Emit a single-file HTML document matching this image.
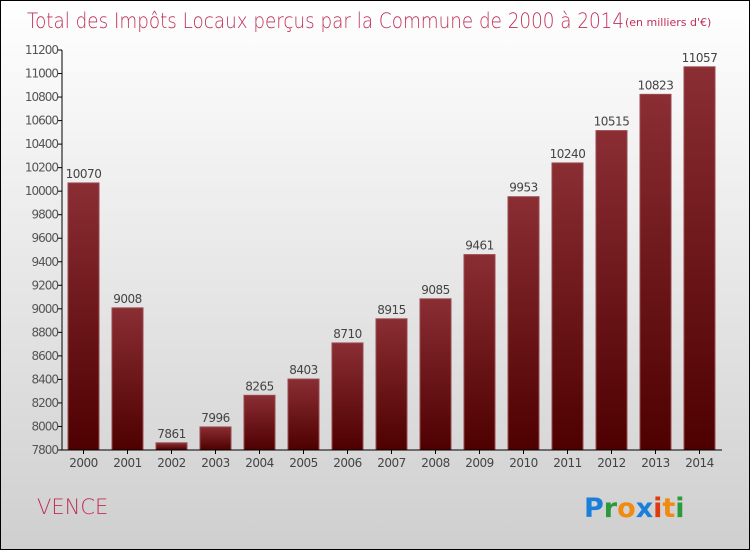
<!DOCTYPE html>
<html><head><meta charset="utf-8"><style>
body{margin:0;}
#c{position:relative;width:748px;height:548px;border:1px solid #000;background:linear-gradient(#ffffff,#cfcfcf);font-family:"DejaVu Sans","Liberation Sans",sans-serif;overflow:hidden}
</style></head><body>
<div id="c">
<svg width="748" height="548" style="position:absolute;left:0;top:0" id="svg">
<defs><linearGradient id="bg" x1="0" y1="0" x2="0" y2="1"><stop offset="0" stop-color="#8a2e34"/><stop offset="1" stop-color="#4e0000"/></linearGradient></defs>
<text x="26" y="27" font-size="21" fill="#c0305a" font-family="'DejaVu Sans',sans-serif" font-weight="200" textLength="597" lengthAdjust="spacingAndGlyphs">Total des Impôts Locaux perçus par la Commune de 2000 à 2014</text>
<text x="624" y="25" font-size="11" fill="#c0305a">(en milliers d'€)</text>
<text x="36" y="513" font-size="21" fill="#c0305a" font-weight="200">VENCE</text>
<g font-size="27" font-weight="bold" font-family="'DejaVu Sans',sans-serif">
<text x="583" y="516"><tspan fill="#1a7fd8">P</tspan><tspan fill="#2a9a3a">r</tspan><tspan fill="#f08a10">o</tspan><tspan fill="#1a7fd8">x</tspan><tspan fill="#e03a10">i</tspan><tspan fill="#f08a10">t</tspan><tspan fill="#2a9a3a">i</tspan></text></g>
<g id="plot"></g>
</svg>
</div>
<script>
const years=["2000","2001","2002","2003","2004","2005","2006","2007","2008","2009","2010","2011","2012","2013","2014"];
const values=[10070,9008,7861,7996,8265,8403,8710,8915,9085,9461,9953,10240,10515,10823,11057];
const ticks=[7800,8000,8200,8400,8600,8800,9000,9200,9400,9600,9800,10000,10200,10400,10600,10800,11000,11200];
const NS="http://www.w3.org/2000/svg";
const g=document.getElementById('plot');
const X0=61,X1=721,Y0=449,Y1=49,VMIN=7800,VMAX=11200;
function y(v){return Y0-(v-VMIN)/(VMAX-VMIN)*(Y0-Y1);}
const step=(X1-X0)/years.length;
function x(i){return X0+i*step;}
function mk(t,a){const e=document.createElementNS(NS,t);for(const k in a)e.setAttribute(k,a[k]);g.appendChild(e);return e;}
ticks.forEach(t=>{
 const l=mk('line',{x1:X0-4,x2:X0,y1:y(t),y2:y(t),stroke:'#000'});
 
 
 const tx=mk('text',{x:X0-4,y:y(t)+4,'font-size':12,fill:'#555','text-anchor':'end','letter-spacing':'-1'});
 tx.textContent=t;
 
 
});
values.forEach((v,i)=>{
 const r=mk('rect',{x:x(i)+6,y:y(v),width:31,height:Y0-y(v),fill:'url(#bg)',stroke:'#9a4a50','stroke-width':1});
 
 
 const vl=mk('text',{x:x(i)+21.5,y:y(v)-5,'font-size':12,fill:'#444','text-anchor':'middle','letter-spacing':'-0.5'});
 vl.textContent=v;
 
 
 const tk=mk('line',{x1:x(i)+21.5,x2:x(i)+21.5,y1:Y0,y2:Y0+4,stroke:'#000'});
 
 
 const xl=mk('text',{x:x(i)+21.5,y:Y0+17,'font-size':12,fill:'#444','text-anchor':'middle','letter-spacing':'-0.5'});
 xl.textContent=years[i];
 
 
});
const ya=mk('line',{x1:X0,x2:X0,y1:Y1,y2:Y0,stroke:'#000'});


const xa=mk('line',{x1:X0,x2:X1,y1:Y0,y2:Y0,stroke:'#000'});


</script>
</body></html>
